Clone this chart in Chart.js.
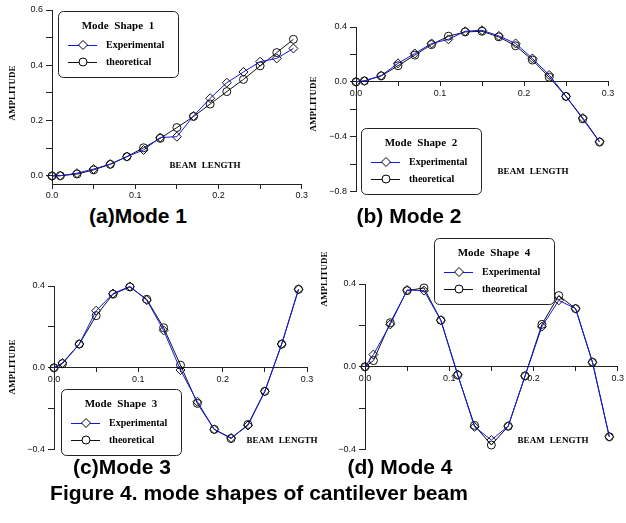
<!DOCTYPE html>
<html>
<head>
<meta charset="utf-8">
<script src="https://cdn.jsdelivr.net/npm/chart.js@4.4.1/dist/chart.umd.min.js"></script>
<style>
  body { margin: 0; background: #fff; width: 626px; height: 523px; position: relative; overflow: hidden; }
  .panel { position: absolute; }
  .cap { position: absolute; font: bold 21px "Liberation Sans", Arial, sans-serif; line-height: 21px;
         color: #000; white-space: nowrap; transform: translateX(-50%); }
</style>
</head>
<body>
<div class="panel" id="p1" style="left:0;top:0;width:310px;height:200px"><canvas id="c1"></canvas></div>
<div class="panel" id="p2" style="left:305px;top:0;width:321px;height:200px"><canvas id="c2"></canvas></div>
<div class="panel" id="p3" style="left:0;top:232px;width:322px;height:226px"><canvas id="c3"></canvas></div>
<div class="panel" id="p4" style="left:305px;top:232px;width:321px;height:226px"><canvas id="c4"></canvas></div>

<div class="cap" style="left:138px;top:205px">(a)Mode 1</div>
<div class="cap" style="left:409px;top:205px">(b) Mode 2</div>
<div class="cap" style="left:122px;top:456px">(c)Mode 3</div>
<div class="cap" style="left:400px;top:456px">(d) Mode 4</div>
<div class="cap" style="left:259px;top:482px">Figure 4. mode shapes of cantilever beam</div>

<script>
// measurement positions along the beam
const beamX = [0, 0.01, 0.03, 0.05, 0.07, 0.09, 0.11, 0.13, 0.15, 0.17, 0.19, 0.21, 0.23, 0.25, 0.27, 0.29];

const mode1Exp  = [0, 0.001, 0.010, 0.025, 0.043, 0.070, 0.094, 0.139, 0.142, 0.217, 0.281, 0.337, 0.376, 0.413, 0.425, 0.461];
const mode1Theo = [0, 0.001, 0.007, 0.022, 0.042, 0.070, 0.102, 0.136, 0.175, 0.215, 0.260, 0.305, 0.349, 0.398, 0.446, 0.494];

const mode2Exp  = [0, 0.007, 0.046, 0.135, 0.207, 0.280, 0.310, 0.369, 0.376, 0.335, 0.280, 0.171, 0.050, -0.106, -0.263, -0.436];
const mode2Theo = [0, 0.007, 0.043, 0.118, 0.195, 0.272, 0.333, 0.364, 0.369, 0.328, 0.263, 0.159, 0.034, -0.106, -0.270, -0.439];

const mode3Exp  = [0, 0.024, 0.116, 0.279, 0.363, 0.398, 0.331, 0.183, -0.011, -0.166, -0.301, -0.343, -0.282, -0.115, 0.116, 0.384];
const mode3Theo = [0, 0.020, 0.116, 0.255, 0.360, 0.395, 0.335, 0.196, 0.013, -0.174, -0.301, -0.346, -0.277, -0.115, 0.116, 0.384];

const mode4Exp  = [0, 0.059, 0.205, 0.371, 0.368, 0.225, -0.037, -0.290, -0.354, -0.286, -0.044, 0.194, 0.321, 0.281, 0.022, -0.338];
const mode4Theo = [0, 0.030, 0.213, 0.368, 0.381, 0.225, -0.040, -0.283, -0.378, -0.287, -0.044, 0.205, 0.344, 0.281, 0.022, -0.338];

// axis ticks (majors get a label, minors only a tick mark)
const xMajor = [0, 0.1, 0.2, 0.3];
const xMinor = [0.05, 0.15, 0.25];
const y1Major = [0, 0.2, 0.4, 0.6];
const y1Minor = [0.1, 0.3, 0.5];
const y2Major = [-0.8, -0.4, 0, 0.4];
const y2Minor = [-0.6, -0.2, 0.2];
const y34Major = [-0.4, 0, 0.4];
const y34Minor = [-0.2, 0.2];

const seriesNames = ['Experimental', 'theoretical'];
const xName = 'BEAM LENGTH';
const yName = 'AMPLITUDE';

const fmt = v => v.toFixed(1).replace('-', '\u2212');

// axis names + boxed legend drawn inside the plot
const panelText = {
  id: 'panelText',
  afterDatasetsDraw(chart, args, o) {
    const ctx = chart.ctx;
    const ox = o.origin[0], oy = o.origin[1];
    ctx.save();
    ctx.fillStyle = '#000';
    ctx.textBaseline = 'middle';
    ctx.textAlign = 'center';
    ctx.font = 'bold 9px "Liberation Serif", serif';
    if ('wordSpacing' in ctx) ctx.wordSpacing = '3px';

    ctx.save();
    ctx.translate(o.yName[0] - ox, o.yName[1] - oy);
    ctx.rotate(-Math.PI / 2);
    ctx.fillText(yName, 0, 0);
    ctx.restore();
    ctx.fillText(xName, o.xName[0] - ox, o.xName[1] - oy);

    // legend box
    const bx = o.legend[0] - ox, by = o.legend[1] - oy, bw = 120, bh = 66;
    ctx.beginPath();
    ctx.roundRect(bx + 0.5, by + 0.5, bw, bh, 5);
    ctx.fillStyle = '#fff';
    ctx.fill();
    ctx.strokeStyle = '#222';
    ctx.lineWidth = 1;
    ctx.stroke();

    ctx.fillStyle = '#000';
    ctx.font = 'bold 11px "Liberation Serif", serif';
    ctx.fillText(o.title, bx + bw / 2, by + 15);

    ctx.textAlign = 'left';
    ctx.font = 'bold 10px "Liberation Serif", serif';
    chart.data.datasets.forEach((ds, i) => {
      const ry = by + 34 + i * 17;
      ctx.strokeStyle = ds.borderColor;
      ctx.beginPath();
      ctx.moveTo(bx + 10, ry + 0.5);
      ctx.lineTo(bx + 39, ry + 0.5);
      ctx.stroke();
      const mx = bx + 25, r = ds.pointRadius;
      ctx.strokeStyle = '#000';
      ctx.beginPath();
      if (ds.pointStyle === 'rectRot') {
        ctx.moveTo(mx, ry - r); ctx.lineTo(mx + r, ry); ctx.lineTo(mx, ry + r); ctx.lineTo(mx - r, ry); ctx.closePath();
      } else {
        ctx.arc(mx, ry, r, 0, Math.PI * 2);
      }
      ctx.fillStyle = '#fff';
      ctx.fill();
      ctx.stroke();
      ctx.fillStyle = '#000';
      ctx.fillText(ds.label, bx + 48, ry);
    });
    ctx.restore();
  }
};

function makeChart(id, p) {
  const box = p.box;
  const area = p.area;
  const yAxisW = 30;
  const tickSet = (major, minor) => major.concat(minor).sort((a, b) => a - b);
  const xs = tickSet(xMajor, xMinor);
  const ys = tickSet(p.yMajor, p.yMinor);

  return new Chart(document.getElementById(id), {
    type: 'scatter',
    data: {
      datasets: [{
        label: seriesNames[0],
        data: beamX.map((x, i) => ({ x: x, y: p.exp[i] })),
        showLine: true,
        borderColor: '#1414f0',
        borderWidth: 1,
        pointStyle: 'rectRot',
        pointRadius: 4.5,
        pointBorderColor: '#111',
        pointBackgroundColor: 'rgba(0,0,0,0)',
        pointBorderWidth: 1,
        clip: false
      }, {
        label: seriesNames[1],
        data: beamX.map((x, i) => ({ x: x, y: p.theo[i] })),
        showLine: true,
        borderColor: '#111',
        borderWidth: 1,
        pointStyle: 'circle',
        pointRadius: 4,
        pointBorderColor: '#111',
        pointBackgroundColor: 'rgba(0,0,0,0)',
        pointBorderWidth: 1,
        clip: false
      }]
    },
    options: {
      responsive: true,
      maintainAspectRatio: false,
      animation: false,
      events: [],
      layout: {
        autoPadding: false,
        padding: {
          left: area.l - box.x - yAxisW,
          right: box.x + box.w - area.r,
          top: area.t - box.y,
          bottom: box.y + box.h - area.b
        }
      },
      scales: {
        x: {
          type: 'linear',
          min: 0,
          max: 0.3,
          position: { y: p.xAxisAt },
          afterBuildTicks: s => { s.ticks = xs.map(v => ({ value: v })); },
          grid: { drawOnChartArea: false, tickLength: 4, color: '#222' },
          border: { color: '#222', width: 1 },
          ticks: {
            autoSkip: false, maxRotation: 0, padding: 2, color: '#111',
            font: { family: '"Liberation Sans", Arial, sans-serif', size: 9 },
            callback: v => xMajor.includes(v) ? fmt(v) : ''
          }
        },
        y: {
          type: 'linear',
          position: 'left',
          min: p.yMin,
          max: p.yMax,
          afterFit: s => { s.width = yAxisW; },
          afterBuildTicks: s => { s.ticks = ys.map(v => ({ value: v })); },
          grid: { drawOnChartArea: false, tickLength: 6, color: '#222' },
          border: { color: '#222', width: 1 },
          ticks: {
            autoSkip: false, padding: 3, color: '#111',
            font: { family: '"Liberation Sans", Arial, sans-serif', size: 9 },
            callback: v => p.yMajor.includes(v) ? fmt(v) : ''
          }
        }
      },
      plugins: {
        legend: { display: false },
        tooltip: { enabled: false },
        panelText: {
          origin: [box.x, box.y],
          title: p.title,
          legend: p.legend,
          xName: p.xName,
          yName: p.yName
        }
      }
    },
    plugins: [panelText]
  });
}

makeChart('c1', {
  box: { x: 0, y: 0, w: 310, h: 200 },
  area: { l: 52, r: 303, t: 10, b: 184 },
  yMin: -0.029, yMax: 0.6, xAxisAt: -0.029,
  yMajor: y1Major, yMinor: y1Minor,
  exp: mode1Exp, theo: mode1Theo,
  title: 'Mode Shape 1', legend: [58, 11], xName: [205, 166], yName: [13, 93]
});

makeChart('c2', {
  box: { x: 305, y: 0, w: 321, h: 200 },
  area: { l: 356, r: 608, t: 27, b: 193 },
  yMin: -0.8, yMax: 0.4, xAxisAt: 0,
  yMajor: y2Major, yMinor: y2Minor,
  exp: mode2Exp, theo: mode2Theo,
  title: 'Mode Shape 2', legend: [361, 128], xName: [533, 172], yName: [314, 104]
});

makeChart('c3', {
  box: { x: 0, y: 232, w: 322, h: 226 },
  area: { l: 54, r: 307, t: 286, b: 453 },
  yMin: -0.4, yMax: 0.4, xAxisAt: 0,
  yMajor: y34Major, yMinor: y34Minor,
  exp: mode3Exp, theo: mode3Theo,
  title: 'Mode Shape 3', legend: [61, 389], xName: [282, 441], yName: [13, 367]
});

makeChart('c4', {
  box: { x: 305, y: 232, w: 321, h: 226 },
  area: { l: 365, r: 620, t: 284, b: 452 },
  yMin: -0.4, yMax: 0.4, xAxisAt: 0,
  yMajor: y34Major, yMinor: y34Minor,
  exp: mode4Exp, theo: mode4Theo,
  title: 'Mode Shape 4', legend: [434, 238], xName: [553, 441], yName: [325, 279]
});
</script>
</body>
</html>
